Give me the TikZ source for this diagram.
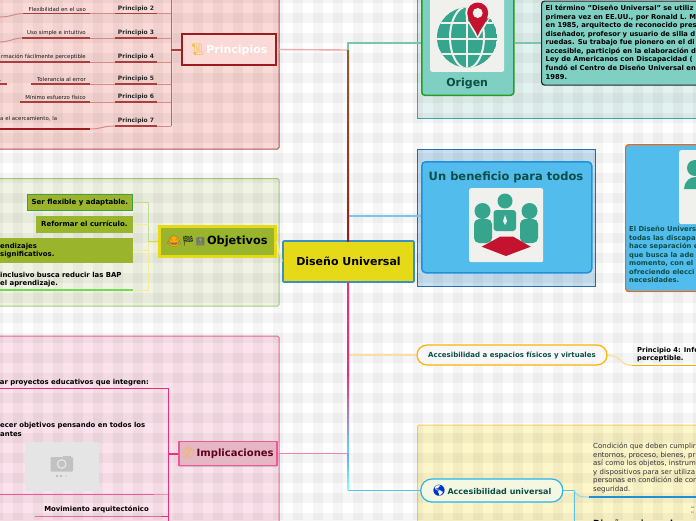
\documentclass[tikz,border=0pt]{standalone}
\usepackage{fontspec}
\usepackage{xcolor}
\usetikzlibrary{shapes,positioning,calc,shadows}
\setmainfont{DejaVu Sans}
\newfontfamily\emojifont{Noto Emoji}
\definecolor{mainyellow}{RGB}{230,218,24}
\definecolor{mainblue}{RGB}{56,144,196}
\definecolor{prinred}{RGB}{155,28,28}
\definecolor{prinfill}{RGB}{250,217,214}
\definecolor{prinpale}{RGB}{214,138,138}
\definecolor{prinbranch}{RGB}{238,170,170}
\definecolor{objolive}{RGB}{154,181,44}
\definecolor{objpale}{RGB}{243,236,150}
\definecolor{objgreen}{RGB}{190,220,150}
\definecolor{implpink}{RGB}{232,48,122}
\definecolor{implbranch}{RGB}{244,130,175}
\definecolor{origteal}{RGB}{127,207,194}
\definecolor{origbranch}{RGB}{120,200,165}
\definecolor{icongreen}{RGB}{53,165,142}
\definecolor{iconred}{RGB}{196,18,47}
\definecolor{imgwhite}{RGB}{240,240,236}
\definecolor{skyblue}{RGB}{82,188,237}
\definecolor{benbranch}{RGB}{124,196,240}
\definecolor{darkteal}{RGB}{13,79,70}
\definecolor{espbranch}{RGB}{252,222,160}
\definecolor{accbranch}{RGB}{90,195,235}
\definecolor{accpale}{RGB}{150,215,235}
\definecolor{accline}{RGB}{31,143,216}
\tikzset{
  panel/.style={draw, line width=1pt, rounded corners=1.5pt},
  branch/.style={line width=1.4pt},
  boxtext/.style={inner sep=0, align=left, anchor=north west, font=\bfseries\fontsize{6.9}{8.5}\selectfont},
  prinlab/.style={inner xsep=0, inner ysep=2pt, font=\bfseries\fontsize{6}{7}\selectfont, text=black!85},
  prinnote/.style={inner xsep=0, inner ysep=2pt, align=right, anchor=south east, font=\fontsize{5.4}{7}\selectfont, text=black!90},
  objbox/.style={fill=objolive, inner sep=0, anchor=east, font=\bfseries\fontsize{7}{8.5}\selectfont},
  imgbox/.style={fill=imgwhite, rounded corners=2pt, inner sep=0, minimum size=74pt}
}
\begin{document}
\begin{tikzpicture}[x=1pt,y=-1pt]
	\useasboundingbox (0,0) rectangle (696,520);
	\clip (0,0) rectangle (696,520);
	\fill[white] (0,0) rectangle (696,520);
	% Paneles
	\draw[panel, draw=prinred!75, fill=prinfill] (-10,-10) rectangle (279,149);
	\draw[panel, draw={rgb,255:red,168;green,210;blue,128}, fill={rgb,255:red,241;green,243;blue,228}] (-10,178.5) rectangle (279,306);
	\draw[panel, draw=implpink!70, fill={rgb,255:red,252;green,226;blue,236}] (-10,336) rectangle (279,530);
	\draw[panel, draw={rgb,255:red,64;green,176;blue,184}, fill={rgb,255:red,226;green,242;blue,240}, rounded corners=0pt] (417.5,-10) rectangle (710,118.5);
	\draw[panel, draw={rgb,255:red,42;green,111;blue,184}, fill={rgb,255:red,201;green,225;blue,242}, rounded corners=0pt] (417.5,149) rectangle (595.5,286.5);
	\draw[panel, draw={rgb,255:red,251;green,207;blue,106}, fill={rgb,255:red,253;green,246;blue,201}] (417.5,425) rectangle (710,530);
	% Fondo a cuadros
	\foreach \k in {0,...,35} {
		\fill[black, opacity=0.036] ({-6.7+20*\k},0) rectangle ++(10,520);
		\fill[black, opacity=0.036] (0,{-6.7+20*\k}) rectangle ++(696,10);
	}

	% Centro
	\node[draw=mainblue, line width=1.6pt, fill=mainyellow, rounded corners=1pt, minimum width=131pt, minimum height=41pt, font=\bfseries\fontsize{11}{13}\selectfont] (main) at (348.5,261.5) {Diseño Universal};

	% Principios
	\node[draw=prinred, line width=1.8pt, fill=prinfill, minimum width=94pt, minimum height=31pt, text=white, font=\bfseries\fontsize{11}{13}\selectfont] (prin) at (229,49.5) {{\emojifont\color{orange!45!yellow!80!brown}\symbol{"1F4DC}}\,Principios};
	\coordinate (prinspine) at (171,-5);
	\foreach \n/\y in {2/13.5,3/38,4/62,5/84,6/102,7/126} {
		\node[prinlab, minimum width=42pt, anchor=south] (p\n) at (136,\y) {Principio \n};
		\draw[line width=1.3pt, prinred!85] (p\n.south west) -- (p\n.south east);
		\draw[line width=1pt, prinpale] (p\n.south east) -- (p\n.south east -| prinspine);
	}
	\draw[line width=1pt, prinpale!80!black] (prinspine) -- (p7.south east -| prinspine);
	\draw[line width=2pt, prinred!85] (prin.west) -- (prin.west -| prinspine);
	\node[prinnote, text width=63pt] (n2) at (86,13.5) {Flexibilidad en el uso};
	\node[prinnote, text width=64pt] (n3) at (86,38) {Uso simple e intuitivo};
	\node[prinnote, text width=86pt] (n4) at (86,62) {rmación fácilmente perceptible};
	\node[prinnote, text width=55pt] (n5) at (86,84) {Tolerancia al error};
	\node[prinnote, text width=66pt] (n6) at (86,102) {Mínimo esfuerzo físico};
	\node[prinnote, text width=64pt, anchor=south west, align=left, inner ysep=8pt] (n7) at (0,129) {a el acercamiento, la};
	\coordinate (n7end) at (90,129);
	\node[prinnote, text width=7pt, align=left] (n8) at (7,84) {.};
	\foreach \n in {2,3,4,5,6} {
		\draw[line width=1.3pt, prinred!85] (n\n.south west) -- ($(n\n.south east)+(4,0)$);
		\draw[line width=1pt, prinpale] ($(n\n.south east)+(4,0)$) -- (p\n.south west);
	}
	\draw[line width=1.3pt, prinred!85] (n8.south west) -- (n8.south east);
	\draw[line width=1.3pt, prinred] (n7.south west) -- (n7end);
	\draw[line width=1pt, prinpale] (n7end) .. controls (102,129) and (102,126) .. (p7.south west);
	\draw[line width=1pt, prinpale] (n2.south west) .. controls (12,14) and (12,17) .. (-1,17);
	\draw[line width=1pt, prinpale] (n3.south west) .. controls (12,38.5) and (10,42) .. (-1,42);

	% Objetivos
	\node[draw=mainyellow, line width=2.2pt, fill=objolive, minimum width=116pt, minimum height=30pt, text width=100pt, align=right, inner xsep=0, font=\bfseries\fontsize{11.3}{13}\selectfont] (obj) at (217.5,241.5) {Objetivos};
	\fill[orange!65!yellow] (174,241.5) circle (5.8);
	\node[inner sep=0, font=\emojifont\fontsize{11}{12}\selectfont, text=black!60] (face) at (174,241.5) {\symbol{"1F602}};
	\node[inner sep=0, font=\emojifont\fontsize{10}{12}\selectfont, text=black!85, right=0.5pt of face] (flag) {\symbol{"1F3C1}};
	\node[inner sep=0, font=\emojifont\fontsize{8}{12}\selectfont, text=black!55, right=0.5pt of flag] (top) {\symbol{"1F51D}};
	\node[objbox, draw=green!50!black!75, line width=1.2pt, minimum width=105pt, minimum height=16pt] (ob1) at (133,202.5) {Ser flexible y adaptable.};
	\node[objbox, minimum width=97pt, minimum height=17pt] (ob2) at (133,224) {Reformar el currículo.};
	\node[objbox, minimum width=135pt, minimum height=25pt] (ob3) at (133,250) {};
	\node[boxtext] (ob3a) at (0,243) {endizajes\\significativos.};
	\node[boxtext, anchor=south west, inner ysep=2.5pt] (ob4) at (0,290) {inclusivo busca reducir las BAP\\el aprendizaje.};
	\coordinate (ob4end) at (133,290);
	\coordinate (objspine) at (148.5,241.5);
	\draw[line width=1.2pt, green!60!olive!70] (ob4.south west) -- (ob4end);
	\draw[line width=1pt, objgreen] (ob1.east) -| (objspine);
	\draw[line width=1pt, objpale] (ob2.east) -- (ob2.east -| objspine);
	\draw[line width=1pt, objpale] (ob3.east) -- (ob3.east -| objspine);
	\draw[line width=1pt, objpale] (ob4end) -| (objspine);
	\draw[line width=1.5pt, mainyellow] (obj.west) -- (objspine);

	% Implicaciones
	\node[draw=implpink!80, line width=1.3pt, fill={rgb,255:red,229;green,183;blue,197}, minimum width=97pt, minimum height=24pt, text=purple!50!black, drop shadow={shadow xshift=0pt, shadow yshift=-1.2pt, opacity=0.35}, font=\bfseries\fontsize{10}{12}\selectfont] (impl) at (228,453.5) {{\emojifont\color{orange!55!yellow}\symbol{"1F914}}\,Implicaciones};
	\coordinate (implspine) at (168.5,388.5);
	\node[boxtext, anchor=south east, inner ysep=2.5pt, inner xsep=5pt] (im1) at (154,388.5) {ar proyectos educativos que integren:};
	\node[boxtext] (im2) at (0,422.5) {ecer objetivos pensando en todos los\\antes};
	\node[fill=black!10, rounded corners=2pt, inner sep=0, minimum width=74pt, minimum height=49pt, anchor=north west] (camimg) at (25,442) {};
	\fill[black!24, rounded corners=1pt] (50.5,457) rectangle (73,471.5);
	\fill[black!24] (63,457) rectangle (71,455.5);
	\draw[black!10, line width=1.2pt, fill=black!24] (61.7,464) circle (4.3);
	\foreach \x/\c in {57/26,61/26,66/15} \fill[black!\c] (\x,476) circle (1.3);
	\node[boxtext, anchor=south east, inner ysep=2.5pt, inner xsep=5pt] (im3) at (154,516) {Movimiento arquitectónico};
	\coordinate (im2end) at (154,494.5);
	\coordinate (im2start) at (-1,494.5);
	\coordinate (im1start) at (-1,388.5);
	\draw[line width=1pt, implpink] (im1start) -- (im1.south east) -- (implspine);
	\draw[line width=1.6pt, implpink!80] (im2start) -- (im2end);
	\draw[line width=1.6pt, implpink!55] (im2end) -- (im2end -| implspine);
	\draw[line width=1pt, implpink] ($(im3.south west)+(-4,0)$) -- (im3.south east) -- (im3.south east -| implspine);
	\draw[line width=1pt, implpink] (implspine) -- (168.5,525);
	\draw[line width=2pt, implpink] (impl.west) -- (impl.west -| implspine);

	% Origen
	\node[draw=green!55!black!85, line width=1.5pt, fill=origteal, rounded corners=3pt, inner sep=0, minimum width=92pt, minimum height=116pt, anchor=south west] (orig) at (421,96) {};
	\node[imgbox, anchor=south west] (origimg) at (430,72) {};
	\node[below=2.5pt of origimg, text=darkteal, font=\bfseries\fontsize{11}{13}\selectfont] (origtxt) {Origen};
	\begin{scope}
		\clip (467,37.5) circle (30);
		\fill[icongreen] (467,37.5) circle (30);
		\draw[imgwhite, line width=2pt] (467,0) -- (467,70) (430,22.5) -- (505,22.5) (430,38.5) -- (505,38.5) (430,53.5) -- (505,53.5);
		\draw[imgwhite, line width=2pt] (467,37.5) ellipse (17 and 31);
	\end{scope}
	\fill[imgwhite] (477.7,13) circle (12.5) (465.5,18) -- (477.7,39) -- (490,18) -- cycle;
	\fill[iconred] (477.7,13) circle (10.5);
	\fill[iconred] (468,17.5) .. controls (470,25) and (475,29) .. (477.7,36) .. controls (480,29) and (485,25) .. (487.4,17.5) -- cycle;
	\fill[imgwhite] (477.7,13) circle (5);
	\node[draw=black!85, line width=1.2pt, fill=origteal, rounded corners=3pt, inner sep=0, minimum width=170pt, minimum height=84pt, anchor=north west] (origdesc) at (541,0.5) {};
	\node[boxtext, font=\bfseries\fontsize{6.8}{8.55}\selectfont] (origtext) at (545.5,5) {El término "Diseño Universal" se utiliz\\primera vez en EE.UU., por Ronald L. M\\en 1985, arquitecto de reconocido pres\\diseñador, profesor y usuario de silla d\\ruedas. Su trabajo fue pionero en el di\\accesible, participó en la elaboración d\\Ley de Americanos con Discapacidad (\\fundó el Centro de Diseño Universal en\\1989.};
	\draw[branch, origbranch] (orig.east |- origdesc.west) -- (origdesc.west);

	% Un beneficio para todos
	\node[draw={rgb,255:red,30;green,144;blue,224}, line width=1.5pt, fill=skyblue, rounded corners=4pt, minimum width=170pt, minimum height=111pt, anchor=north west, inner sep=0] (ben) at (421,161) {};
	\node[text=darkteal, font=\bfseries\fontsize{11.5}{13}\selectfont] (bentxt) at (506,177.5) {Un beneficio para todos};
	\node[imgbox, anchor=north west] (benimg) at (469,188) {};
	\fill[icongreen] (505,201) circle (7.5) (482.5,211) circle (8) (529.5,211) circle (8);
	\fill[icongreen, rounded corners=3pt] (493.5,210) rectangle (516,231);
	\fill[icongreen, rounded corners=5pt] (474,219) rectangle (492,243);
	\fill[icongreen, rounded corners=5pt] (520,219) rectangle (538,243);
	\fill[imgwhite] (505,215) -- (507,221) -- (505,225) -- (503,221) -- cycle;
	\fill[iconred] (481.7,246.7) -- (500,236.7) -- (513.3,236.7) -- (530.7,246.7) -- (506,256) -- cycle;

	% Panel derecho
	\node[draw=orange!75!red, line width=1.2pt, fill=skyblue, rounded corners=3pt, inner sep=0, minimum width=90pt, minimum height=147pt, anchor=north west] (benside) at (625,144) {};
	\node[imgbox, anchor=north west] (sideimg) at (679,150) {};
	\fill[icongreen] (695,168) circle (8);
	\fill[icongreen] (684,189) .. controls (685,180) and (690,177) .. (696,177) -- (700,189) -- cycle;
	\node[boxtext, text=darkteal, font=\bfseries\fontsize{6.8}{8.5}\selectfont] (sidetext) at (629,226.5) {El Diseño Univers\\todas las discapa\\hace separación e\\que busca la ade\\momento, con el \\ofreciendo elecci\\necesidades.};

	% Accesibilidad a espacios
	\node[draw=orange!60!yellow, line width=1.2pt, fill=black!3, rounded corners=10pt, minimum width=190pt, minimum height=20pt, text=darkteal, font=\bfseries\fontsize{7}{8}\selectfont] (esp) at (512,355) {Accesibilidad a espacios físicos y virtuales};
	\node[boxtext, font=\bfseries\fontsize{6.8}{8.3}\selectfont] (p4txt) at (637,347) {Principio 4: Info\\perceptible.};
	\coordinate (p4start) at (632,365.3);
	\coordinate (p4end) at (700,365.3);
	\draw[branch, espbranch] (esp.east) .. controls (620,355) and (620,365) .. (p4start);
	\draw[line width=1.4pt, orange!65!yellow] (p4start) -- (p4end);

	% Accesibilidad universal
	\node[draw={rgb,255:red,41;green,181;blue,232}, line width=1.2pt, fill={rgb,255:red,244;green,248;blue,226}, rounded corners=11pt, minimum width=142pt, minimum height=23pt, text=darkteal, font=\bfseries\fontsize{8}{10}\selectfont] (acc) at (491.8,490.5) {{\emojifont\fontsize{11}{12}\selectfont\color{blue!60!teal}\symbol{"1F30E}}\,Accesibilidad universal};
	\node[inner sep=0, align=left, anchor=north west, text=black!80, font=\fontsize{7}{8.5}\selectfont] (acctxt) at (593,443) {Condición que deben cumplir\\entornos, proceso, bienes, pr\\así como los objetos, instrum\\y dispositivos para ser utiliza\\personas en condición de con\\seguridad.};
	\node[inner sep=0, anchor=north west, font=\bfseries\fontsize{8.5}{10}\selectfont] (dis) at (593,519.5) {Diseño universal};
	\node[inner sep=0, align=left, anchor=north west, text=black!70, font=\fontsize{3}{4.2}\selectfont] (tiny) at (691,507) {ac\\si};
	\coordinate (accspine) at (574,490.5);
	\coordinate (accturn) at (589,497);
	\coordinate (accend) at (700,497);
	\draw[line width=1pt, accbranch] (acc.east) -- (accspine) -- (574,525);
	\draw[line width=1pt, accpale] (accspine) .. controls (578,497) and (580,497) .. (accturn);
	\draw[line width=1.3pt, accline] (accturn) -- (accend);

	% Ramas del centro
	\coordinate (spine) at (348,50);
	\draw[branch, prinbranch] (prin.east) -- (spine);
	\draw[branch, origbranch] (orig.west |- origdesc.west) -| (spine);
	\draw[branch, benbranch] (ben.west |- 0,216) -| (spine);
	\draw[branch, objpale] (obj.east) -- (main.west);
	\draw[branch, espbranch] (esp.west) -- (esp.west -| spine);
	\draw[branch, implbranch] (impl.east) -- (impl.east -| spine);
	\draw[branch, accbranch] (acc.west) -| (main.south -| spine);
	\shade[top color=brown!75!black, bottom color=prinred] (347,50) rectangle (349,241);
	\shade[top color=implpink, bottom color=implpink] (347,282) rectangle (349,375);
	\shade[top color=implpink, bottom color=blue!30!cyan!60] (347,375) rectangle (349,453);
	\shade[top color=cyan!40!blue!60, bottom color=cyan!50] (347,453) rectangle (348.6,490);
\end{tikzpicture}
\end{document}
